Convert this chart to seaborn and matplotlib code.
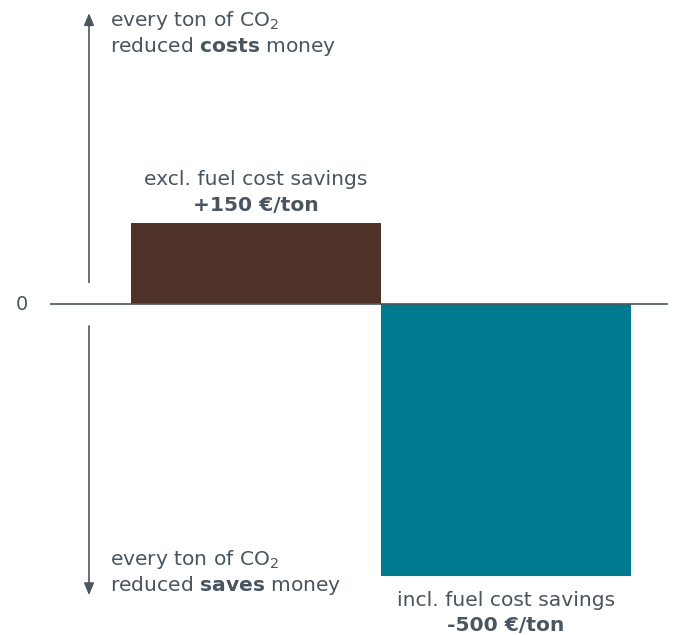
import matplotlib
matplotlib.use("Agg")
import matplotlib.pyplot as plt
import seaborn as sns
import pandas as pd

categories = ["excl. fuel cost savings", "incl. fuel cost savings"]
values = [150, -500]
value_labels = ["+150 €/ton", "-500 €/ton"]
colors = ["#4E3227", "#007A8E"]

sns.set_theme(style="white")
plt.rcParams['font.family'] = ['DejaVu Sans']
plt.rcParams['mathtext.fontset'] = 'dejavusans'

TXT = "#4A5560"
df = pd.DataFrame({"cat": categories, "val": values})

fig = plt.figure(figsize=(6.76, 6.35), dpi=100)
ax = fig.add_axes([0, 0, 1, 1])
sns.barplot(data=df, x="cat", y="val", hue="cat", palette=colors, width=1.0,
            legend=False, ax=ax, saturation=1, linewidth=0)
ax.set_xlim(-1.024, 1.68)
ax.set_ylim(-608, 559)
ax.axis("off")

ax.hlines(0, -0.824, 1.648, color="#4A5560", lw=1.2, zorder=3)
ax.text(-0.935, 0, "0", ha="center", va="center", fontsize=14, color=TXT)

ax.annotate("", xy=(-0.668, 540), xytext=(-0.668, 35),
            arrowprops=dict(arrowstyle="-|>,head_length=0.6,head_width=0.25", color="#4A5560", lw=1.2))
ax.annotate("", xy=(-0.668, -540), xytext=(-0.668, -35),
            arrowprops=dict(arrowstyle="-|>,head_length=0.6,head_width=0.25", color="#4A5560", lw=1.2))

fs = 14.6
ax.text(-0.584, 522, "every ton of CO$_2$", ha="left", va="center", fontsize=fs, color=TXT)
ax.text(-0.584, 474, r"reduced $\mathbf{costs}$ money", ha="left", va="center", fontsize=fs, color=TXT)
ax.text(-0.584, -470, "every ton of CO$_2$", ha="left", va="center", fontsize=fs, color=TXT)
ax.text(-0.584, -517, r"reduced $\mathbf{saves}$ money", ha="left", va="center", fontsize=fs, color=TXT)

ax.text(0, 230, categories[0], ha="center", va="center", fontsize=fs, color=TXT)
ax.text(0, 182, value_labels[0], ha="center", va="center", fontsize=fs, color=TXT, fontweight="bold")
ax.text(1, -544, categories[1], ha="center", va="center", fontsize=fs, color=TXT)
ax.text(1, -590, value_labels[1], ha="center", va="center", fontsize=fs, color=TXT, fontweight="bold")

fig.savefig("out.png", dpi=100)
